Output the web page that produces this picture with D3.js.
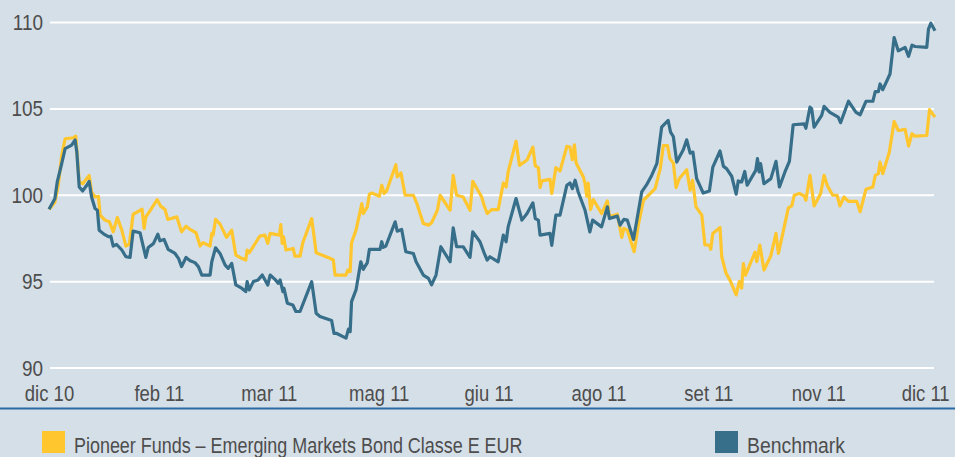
<!DOCTYPE html>
<html>
<head>
<meta charset="utf-8">
<script src="https://cdn.jsdelivr.net/npm/d3@7"></script>
<style>
  body { margin: 0; background: #d5dfe7; }
  svg { display: block; }
</style>
</head>
<body>
<svg id="drawing_region"></svg>
<script>
// tick labels (one every 32 trading days)
const xTickDays = [0, 32, 64, 96, 128, 160, 192, 224, 256];
const xTickLabels = ['dic 10', 'feb 11', 'mar 11', 'mag 11', 'giu 11', 'ago 11', 'set 11', 'nov 11', 'dic 11'];
const yTicks = [90, 95, 100, 105, 110];

const seriesNames = ['Pioneer Funds \u2013 Emerging Markets Bond Classe E EUR', 'Benchmark'];

// fund (yellow) - trading day index / value
const fundDays = [0, 1.7, 2.7, 3.7, 4.7, 7.1, 7.8, 8.8, 9.8, 11.7, 12.4, 13.4, 14.4, 14.9, 16.3, 17.6, 18.7, 19.9, 21.2, 22.4,
  23.4, 24.5, 26.5, 27.1, 27.7, 28.2, 29.4, 31.5, 32.5, 33.8, 34.6, 37.2, 38.6, 39.9, 41.1, 42.8, 44.0, 44.8, 46.9, 47.4,
  47.8, 48.5, 49.8, 51.7, 53.2, 54.4, 56.1, 57.3, 57.7, 58.3, 61.4, 62.9, 63.7, 64.4, 67.1, 67.5, 67.9, 68.3, 69.0, 71.1,
  71.6, 73.1, 73.9, 76.5, 77.8, 81.8, 82.8, 83.3, 86.5, 87.0, 87.7, 88.1, 89.4, 91.1, 91.5, 92.7, 93.3, 94.0, 96.2, 96.9,
  97.6, 98.3, 101.0, 101.4, 102.5, 103.7, 106.1, 107.2, 109.0, 110.5, 111.4, 113.1, 113.9, 116.8, 117.7, 118.7, 120.6, 122.6, 123.4, 126.0,
  126.7, 127.6, 128.9, 130.8, 132.3, 133.1, 133.7, 136.0, 137.0, 139.2, 140.9, 141.6, 142.5, 143.0, 143.5, 145.9, 146.4, 147.6, 148.8, 150.8,
  151.7, 152.4, 153.0, 153.5, 155.6, 156.1, 156.6, 157.0, 157.7, 158.5, 160.9, 162.6, 163.2, 165.5, 166.8, 167.4, 168.4, 170.4, 171.6, 173.1,
  176.5, 178.0, 178.9, 180.1, 180.8, 181.8, 182.6, 183.5, 185.7, 186.7, 187.4, 188.4, 190.1, 191.0, 192.3, 192.7, 193.3, 195.4, 195.9, 197.1,
  198.5, 200.1, 201.0, 201.7, 202.2, 202.8, 205.6, 206.1, 207.0, 208.2, 210.2, 211.7, 212.4, 215.3, 216.3, 217.0, 218.5, 219.9, 220.4, 221.6,
  222.8, 224.7, 225.7, 226.6, 228.2, 229.5, 230.3, 231.5, 232.8, 235.2, 236.2, 237.9, 239.9, 240.6, 241.5, 242.0, 242.8, 244.7, 246.1, 247.3,
  249.3, 250.3, 251.3, 252.2, 255.6, 256.4, 258.0];
const fundValues = [99.17, 99.6, 100.58, 102.31, 103.27, 103.33, 103.42, 100.77, 100.67, 101.15, 100.19, 99.9, 99.94, 98.85, 98.56, 98.46, 97.88, 98.71, 97.98, 97.06,
  97.17, 98.9, 99.13, 99.2, 98.08, 98.75, 99.1, 99.75, 99.37, 99.17, 98.6, 98.75, 97.88, 98.21, 98.02, 97.83, 97.06, 97.25, 97.06, 97.79,
  97.7, 98.6, 98.33, 97.56, 97.98, 96.54, 96.35, 96.25, 96.83, 96.67, 97.63, 97.69, 97.21, 97.79, 97.69, 98.3, 97.21, 97.6, 96.83, 96.92,
  96.48, 96.48, 97.25, 98.65, 96.67, 96.35, 96.25, 95.38, 95.38, 95.67, 95.58, 97.25, 97.98, 99.52, 98.94, 99.33, 100.06, 100.13, 99.94, 100.58,
  100.1, 100.25, 101.77, 101.06, 101.29, 100.0, 100.0, 99.48, 98.37, 98.27, 98.4, 99.13, 100.0, 99.13, 101.15, 100.0, 99.9, 99.13, 100.81, 99.9,
  99.42, 98.94, 99.17, 99.17, 100.71, 100.48, 101.35, 103.13, 101.73, 102.04, 102.79, 101.7, 101.6, 100.44, 100.83, 100.92, 100.1, 101.6, 101.4, 102.83,
  102.79, 102.06, 102.92, 101.87, 101.06, 100.67, 99.94, 100.71, 99.17, 99.75, 98.94, 99.67, 98.75, 98.9, 97.56, 98.08, 97.98, 96.73, 98.27, 99.71,
  100.38, 101.54, 102.88, 102.88, 102.12, 101.87, 100.44, 100.96, 101.48, 100.29, 100.87, 99.33, 98.85, 97.12, 97.12, 96.87, 97.79, 98.13, 96.44, 95.52,
  95.0, 94.23, 95.0, 94.62, 96.04, 95.38, 96.71, 96.15, 97.12, 95.67, 96.5, 97.79, 96.63, 99.27, 99.38, 100.0, 100.1, 99.96, 99.71, 101.15,
  99.38, 100.1, 101.15, 100.58, 100.0, 100.0, 99.38, 99.9, 99.65, 99.65, 99.04, 100.35, 100.48, 101.15, 101.25, 101.92, 101.25, 102.5, 104.27, 103.75,
  103.81, 102.85, 103.56, 103.42, 103.46, 104.96, 104.52];

// benchmark (blue) - trading day index / value
const benchDays = [0, 1.7, 2.4, 3.7, 4.7, 6.6, 7.6, 8.1, 8.8, 9.8, 11.0, 11.7, 12.4, 13.4, 14.1, 14.6, 16.0, 17.3, 18.0, 18.7,
  19.7, 21.2, 22.4, 23.6, 24.5, 26.5, 28.2, 28.9, 30.4, 31.7, 32.3, 33.5, 34.7, 36.7, 37.7, 38.6, 39.9, 41.1, 42.5, 43.5,
  44.5, 46.9, 47.4, 48.5, 49.8, 51.3, 52.2, 53.2, 54.4, 56.1, 57.3, 57.7, 58.3, 59.5, 60.9, 62.1, 63.7, 64.4, 65.8, 66.8,
  67.3, 68.1, 68.4, 69.4, 71.0, 71.9, 73.1, 76.5, 77.8, 78.9, 82.3, 83.0, 83.8, 86.5, 87.2, 87.7, 88.1, 89.4, 90.8, 91.5,
  92.7, 93.3, 96.4, 96.9, 97.3, 98.1, 100.8, 101.4, 102.7, 103.9, 106.1, 106.9, 109.0, 110.5, 111.4, 112.7, 114.1, 116.8, 117.7, 118.7,
  120.6, 122.6, 123.4, 125.5, 126.7, 127.6, 128.4, 130.8, 132.3, 133.1, 133.7, 136.0, 137.7, 139.2, 140.9, 141.6, 142.5, 143.0, 145.9, 146.4,
  147.6, 148.8, 150.8, 151.7, 152.4, 153.2, 154.1, 156.1, 157.5, 158.3, 160.9, 162.6, 163.2, 165.5, 166.3, 167.4, 168.4, 170.2, 172.6, 174.1,
  175.5, 177.0, 178.4, 180.3, 181.0, 181.8, 182.8, 184.7, 185.7, 186.7, 187.5, 188.6, 190.5, 192.3, 193.3, 195.4, 196.4, 197.3, 198.8, 200.1,
  200.7, 201.7, 202.6, 203.3, 205.8, 206.3, 206.8, 207.2, 208.2, 210.2, 211.7, 212.7, 214.3, 215.6, 216.7, 219.9, 220.4, 221.6, 222.1, 222.8,
  225.0, 225.7, 227.4, 229.8, 230.5, 232.8, 235.0, 236.2, 237.9, 239.9, 240.6, 241.5, 242.0, 242.8, 244.9, 246.1, 247.3, 249.3, 250.3, 251.3,
  252.2, 255.6, 256.1, 256.8, 258.0];
const benchValues = [99.19, 99.8, 100.77, 101.83, 102.7, 102.9, 103.2, 102.5, 100.48, 100.25, 100.58, 100.8, 99.9, 99.23, 99.13, 97.98, 97.75, 97.6, 97.63, 97.06,
  97.15, 96.83, 96.44, 96.4, 97.92, 97.83, 96.4, 96.98, 97.2, 97.75, 97.36, 97.44, 96.87, 96.63, 96.35, 95.87, 96.4, 96.21, 96.1, 95.87,
  95.38, 95.38, 96.15, 96.96, 96.63, 95.96, 95.77, 96.06, 94.81, 94.62, 94.42, 95.0, 94.52, 95.0, 95.1, 95.38, 94.8, 95.38, 95.13, 94.9,
  95.1, 94.42, 94.62, 93.75, 93.65, 93.27, 93.27, 95.0, 93.17, 92.98, 92.75, 92.0, 92.0, 91.73, 92.25, 92.1, 93.84, 94.52, 96.15, 95.71,
  96.1, 96.87, 96.87, 97.31, 96.98, 97.06, 98.46, 97.92, 98.02, 96.73, 96.63, 96.15, 95.38, 95.19, 94.81, 95.38, 97.02, 96.15, 98.11, 97.02,
  97.02, 96.4, 97.88, 97.31, 96.67, 96.25, 96.44, 96.15, 97.69, 97.31, 98.17, 99.81, 98.56, 98.94, 99.56, 98.65, 98.56, 97.69, 97.79, 97.1,
  98.85, 98.85, 100.58, 100.71, 100.38, 100.87, 100.19, 99.13, 97.88, 98.56, 98.17, 99.33, 98.65, 98.79, 98.27, 98.6, 98.56, 97.44, 100.19, 100.63,
  101.15, 101.83, 103.94, 104.33, 103.65, 103.4, 101.92, 102.63, 103.21, 102.44, 102.5, 100.96, 100.13, 100.25, 101.63, 102.56, 101.67, 101.54, 101.1, 100.06,
  100.83, 100.77, 101.38, 100.58, 101.44, 102.12, 101.35, 101.83, 100.67, 100.96, 101.96, 100.48, 101.35, 101.96, 104.08, 104.13, 103.88, 105.1, 105.0, 103.94,
  104.62, 105.15, 104.8, 104.52, 104.2, 105.44, 104.8, 104.66, 105.44, 105.44, 106.0, 106.0, 106.44, 106.11, 107.02, 109.13, 108.36, 108.56, 108.04, 108.69,
  108.61, 108.56, 109.62, 109.96, 109.52];

const colors = ['#ffc62e', '#376e8a'];
const textColor = '#4d4d4d';
const fontFamily = "'Liberation Sans', Arial, sans-serif";

const config = {
  width: 955,
  height: 457,
  plotLeft: 49, plotRight: 935,
  gridLeft: 50, gridRight: 934,
  top: 22.5, bottom: 368
};

// squeeze text horizontally to imitate the narrow font of the original
const condense = (sel, factor) => {
  sel.each(function(d, i) {
    const f = Array.isArray(factor) ? factor[i] : factor;
    const w = this.getComputedTextLength();
    d3.select(this)
      .attr('textLength', w * f)
      .attr('lengthAdjust', 'spacingAndGlyphs');
  });
};

const svg = d3.select('#drawing_region')
  .attr('width', config.width)
  .attr('height', config.height)
  .style('font-family', fontFamily);

svg.append('rect')
  .attr('width', config.width)
  .attr('height', config.height)
  .attr('fill', '#d5dfe7');

const xscale = d3.scaleLinear()
  .domain([0, 258])
  .range([config.plotLeft, config.plotRight]);

const yscale = d3.scaleLinear()
  .domain([90, 110])
  .range([config.bottom, config.top]);

// gridlines
svg.append('g')
  .selectAll('line')
  .data(yTicks)
  .join('line')
  .attr('x1', config.gridLeft)
  .attr('x2', config.gridRight)
  .attr('y1', d => yscale(d))
  .attr('y2', d => yscale(d))
  .attr('stroke', '#ffffff')
  .attr('stroke-width', 2);

// y axis labels
const yaxis = d3.axisLeft(yscale)
  .tickValues(yTicks)
  .tickSize(0)
  .tickPadding(7);

const yaxis_group = svg.append('g')
  .attr('transform', `translate(${config.gridLeft}, 0)`)
  .call(yaxis);
yaxis_group.select('.domain').remove();
yaxis_group.selectAll('text')
  .attr('fill', textColor)
  .attr('font-size', '22px')
  .attr('font-family', fontFamily)
  .call(condense, 0.86);

// x axis labels
const xaxis = d3.axisBottom(xscale)
  .tickValues(xTickDays)
  .tickFormat((d, i) => xTickLabels[i])
  .tickSize(0)
  .tickPadding(0);

const xaxis_group = svg.append('g')
  .attr('transform', `translate(0, 385)`)
  .call(xaxis);
xaxis_group.select('.domain').remove();
xaxis_group.selectAll('text')
  .attr('fill', textColor)
  .attr('font-size', '22px')
  .attr('font-family', fontFamily)
  .call(condense, 0.84);
// keep the last label inside the frame
xaxis_group.selectAll('.tick:last-of-type text').attr('dx', -3);

// lines
const line = d3.line()
  .x(d => xscale(d[0]))
  .y(d => yscale(d[1]));

const fundData = fundDays.map((d, i) => [d, fundValues[i]]);
const benchData = benchDays.map((d, i) => [d, benchValues[i]]);

svg.append('path')
  .datum(fundData)
  .attr('fill', 'none')
  .attr('stroke', colors[0])
  .attr('stroke-width', 3.2)
  .attr('stroke-linejoin', 'round')
  .attr('d', line);

svg.append('path')
  .datum(benchData)
  .attr('fill', 'none')
  .attr('stroke', colors[1])
  .attr('stroke-width', 3.2)
  .attr('stroke-linejoin', 'round')
  .attr('d', line);

// separator
svg.append('line')
  .attr('x1', 0).attr('x2', config.width)
  .attr('y1', 408.5).attr('y2', 408.5)
  .attr('stroke', '#2a6ba3')
  .attr('stroke-width', 2);

// legend
const legendX = [42, 715];
const legend = svg.append('g')
  .selectAll('g')
  .data(seriesNames)
  .join('g')
  .attr('transform', (d, i) => `translate(${legendX[i]}, 431)`);

legend.append('rect')
  .attr('width', 23)
  .attr('height', 22)
  .attr('fill', (d, i) => colors[i]);

legend.append('text')
  .attr('x', 32)
  .attr('y', 22)
  .attr('fill', textColor)
  .attr('font-size', '22px')
  .attr('font-family', fontFamily)
  .text(d => d)
  .call(condense, [0.815, 0.88]);
</script>
</body>
</html>
